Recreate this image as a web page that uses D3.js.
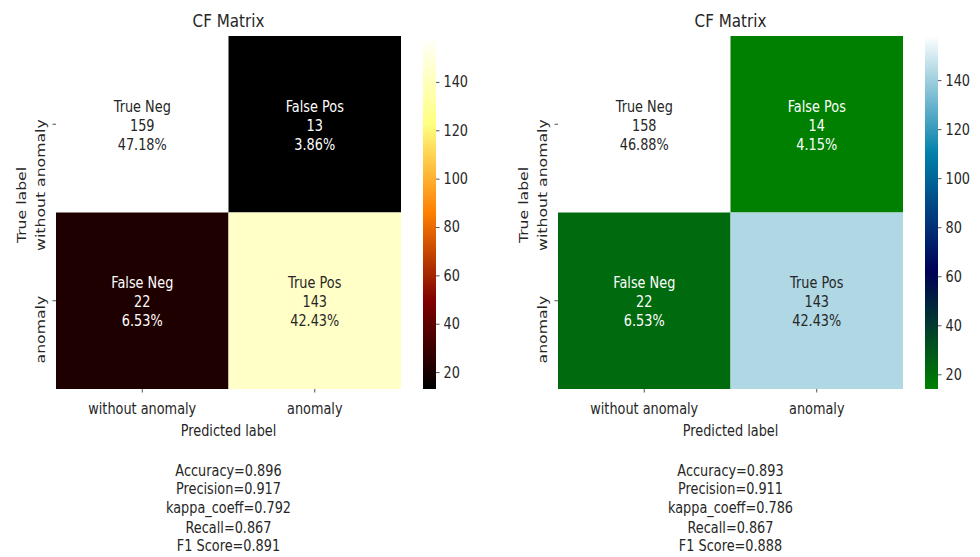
<!DOCTYPE html>
<html>
<head>
<meta charset="utf-8">
<script src="https://cdn.jsdelivr.net/npm/d3@7"></script>
<style>
  html, body { margin: 0; padding: 0; background: #fff; }
  svg { display: block; }
  text { font-family: "DejaVu Sans", sans-serif; fill: #262626; }
</style>
</head>
<body>
<svg id="chart" width="980" height="557"></svg>
<script>
// ---- data ----
const classLabels = ["without anomaly", "anomaly"];
const groupNames = ["True Neg", "False Pos", "False Neg", "True Pos"];
const countsLeft = [159, 13, 22, 143];
const countsRight = [158, 14, 22, 143];
const metricNames = ["Accuracy", "Precision", "kappa_coeff", "Recall", "F1 Score"];
const metricsLeft = [0.896, 0.917, 0.792, 0.867, 0.891];
const metricsRight = [0.893, 0.911, 0.786, 0.867, 0.888];
const colorbarTicks = [20, 40, 60, 80, 100, 120, 140];
const chartTitle = "CF Matrix";
const xAxisTitle = "Predicted label";
const yAxisTitle = "True label";

// ---- colormaps (matplotlib afmhot and ocean) ----
const clamp01 = v => Math.max(0, Math.min(1, v));
function afmhot(t) {
  return d3.rgb(255 * clamp01(2 * t), 255 * clamp01(2 * t - 0.5), 255 * clamp01(2 * t - 1));
}
function ocean(t) {
  const r = t < 0.667 ? 0 : (t - 0.667) / 0.333;
  const g = t < 0.333 ? 0.5 - 1.5 * t : (t - 0.333) / 0.667;
  return d3.rgb(255 * clamp01(r), 255 * clamp01(g), 255 * clamp01(t));
}
function luminance(c) {
  const lin = v => { v /= 255; return v <= 0.03928 ? v / 12.92 : Math.pow((v + 0.055) / 1.055, 2.4); };
  return 0.2126 * lin(c.r) + 0.7152 * lin(c.g) + 0.0722 * lin(c.b);
}

// ---- layout ----
const SX = 0.82;          // horizontal squeeze of glyphs
const FONT = 15.7;
const panels = [
  { dx: 0,   counts: countsLeft,  metrics: metricsLeft,  cmap: afmhot, id: "L" },
  { dx: 502, counts: countsRight, metrics: metricsRight, cmap: ocean,  id: "R" }
];
const hm = { x0: 56, x1: 401, y0: 36, y1: 389 };
const cb = { x: 423, w: 13 };
const metricBaselines = [476, 494, 513, 533, 551];

const svg = d3.select("#chart");
const defs = svg.append("defs");

function label(g, x, y, str, opts = {}) {
  const t = g.append("text")
    .attr("transform", `translate(${x},${y}) scale(${SX},1)` + (opts.rotate ? ` rotate(${opts.rotate})` : ""))
    .attr("text-anchor", opts.anchor || "middle")
    .style("font-size", (opts.size || FONT) + "px")
    .text(str);
  if (opts.baseline) t.attr("dominant-baseline", opts.baseline);
  if (opts.fill) t.style("fill", opts.fill);
  return t;
}

panels.forEach(p => {
  const g = svg.append("g").attr("transform", `translate(${p.dx},0)`);
  const total = d3.sum(p.counts);
  const vmin = d3.min(p.counts), vmax = d3.max(p.counts);
  const norm = d3.scaleLinear().domain([vmin, vmax]).range([0, 1]).clamp(true);
  const color = v => p.cmap(norm(v));

  const x = d3.scaleBand().domain(classLabels).range([hm.x0, hm.x1]);
  const y = d3.scaleBand().domain(classLabels).range([hm.y0, hm.y1]);

  const cells = p.counts.map((v, i) => ({
    v, i,
    row: classLabels[Math.floor(i / 2)],
    col: classLabels[i % 2],
    name: groupNames[i],
    pct: (100 * v / total).toFixed(2) + "%"
  }));

  g.selectAll("rect.cell").data(cells).join("rect")
    .attr("class", "cell")
    .attr("x", d => x(d.col))
    .attr("y", d => y(d.row))
    .attr("width", x.bandwidth())
    .attr("height", y.bandwidth())
    .attr("fill", d => color(d.v));

  // cell annotations
  cells.forEach(d => {
    const cx = x(d.col) + x.bandwidth() / 2;
    const cy = y(d.row) + y.bandwidth() / 2;
    const fill = luminance(color(d.v)) > 0.408 ? "#262626" : "#ffffff";
    [d.name, String(d.v), d.pct].forEach((s, k) => {
      label(g, cx, cy + 6.5 + (k - 1) * 18.8, s, { fill });
    });
  });

  // x ticks
  classLabels.forEach(c => {
    const cx = x(c) + x.bandwidth() / 2;
    g.append("line").attr("x1", cx).attr("x2", cx).attr("y1", hm.y1).attr("y2", hm.y1 + 3.5)
      .attr("stroke", "#262626").attr("stroke-width", 0.8);
    label(g, cx, 414, c);
  });
  label(g, (hm.x0 + hm.x1) / 2, 436, xAxisTitle);

  // y ticks (rotated labels, top end just above the tick)
  classLabels.forEach(c => {
    const cy = y(c) + y.bandwidth() / 2;
    g.append("line").attr("x1", hm.x0 - 3.5).attr("x2", hm.x0).attr("y1", cy).attr("y2", cy)
      .attr("stroke", "#262626").attr("stroke-width", 0.8);
    label(g, 45, cy - 5, c, { rotate: -90, anchor: "end" });
  });
  label(g, 26, 205, yAxisTitle, { rotate: -90 });

  // title
  label(g, (hm.x0 + hm.x1) / 2, 27, chartTitle, { size: 18.5 });

  // colorbar
  const grad = defs.append("linearGradient").attr("id", "grad" + p.id)
    .attr("x1", 0).attr("y1", 1).attr("x2", 0).attr("y2", 0);
  d3.range(0, 1.0001, 1 / 64).forEach(t => {
    grad.append("stop").attr("offset", t).attr("stop-color", p.cmap(t).formatHex());
  });
  g.append("rect").attr("x", cb.x).attr("y", hm.y0).attr("width", cb.w).attr("height", hm.y1 - hm.y0)
    .attr("fill", `url(#grad${p.id})`);
  const cbScale = d3.scaleLinear().domain([vmin, vmax]).range([hm.y1, hm.y0]);
  const cbAxis = d3.axisRight(cbScale).tickValues(colorbarTicks).tickSize(3.5).tickPadding(2);
  const ax = g.append("g").attr("transform", `translate(${cb.x + cb.w},0)`).call(cbAxis);
  ax.select(".domain").remove();
  ax.selectAll(".tick line").attr("stroke", "#262626").attr("stroke-width", 0.8);
  ax.selectAll(".tick text").remove();
  colorbarTicks.forEach(v => {
    label(g, cb.x + cb.w + 7.5, cbScale(v), String(v), { anchor: "start", baseline: "central" });
  });

  // metrics text
  metricNames.forEach((m, k) => {
    label(g, (hm.x0 + hm.x1) / 2, metricBaselines[k], `${m}=${p.metrics[k].toFixed(3)}`);
  });
});
</script>
</body>
</html>
